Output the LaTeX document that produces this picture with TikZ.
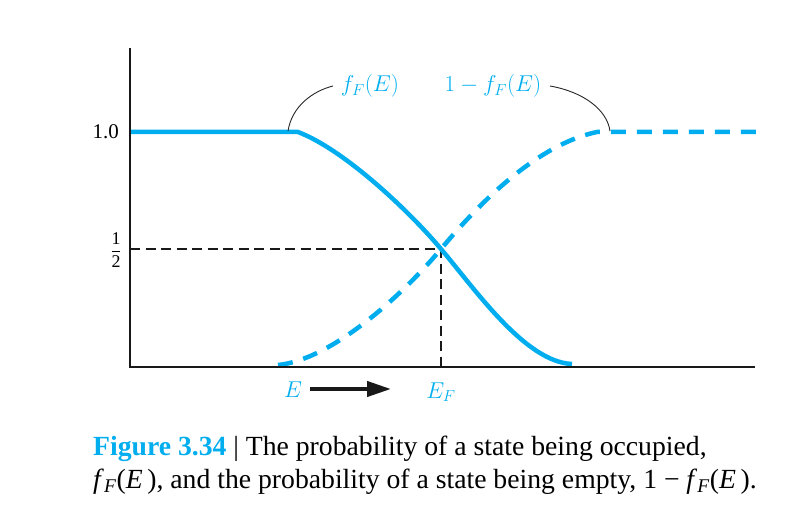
\documentclass[tikz,border=0pt]{standalone}
\usepackage{graphicx}
\usepackage{fontspec}
\setmainfont{Liberation Serif}
\usetikzlibrary{arrows.meta}
\definecolor{fblue}{RGB}{0,174,239}
\newcommand{\lblmath}[1]{\scalebox{1.11}{$#1$}}
\begin{document}
\begin{tikzpicture}[x=1bp,y=-1bp,
  axis/.style={draw=black!90,line width=2.6bp},
  occ/.style={draw=fblue,line width=4.5bp},
  emp/.style={draw=fblue,line width=4.5bp,dash pattern=on 15bp off 11bp},
  guide/.style={draw=black!90,line width=2.1bp,dash pattern=on 10bp off 5.5bp},
  leader/.style={draw=black!85,line width=0.9bp},
  bluelbl/.style={text=fblue,inner sep=0pt,font=\fontsize{20.74}{25}\selectfont},
  ticklbl/.style={inner sep=0pt,font=\fontsize{21}{24}\selectfont},
  captext/.style={anchor=base west,inner sep=0pt,font=\fontsize{27.8}{32}\selectfont}]
\useasboundingbox (0,0) rectangle (812,518);
% coordinates
\coordinate (O) at (130,367);
\coordinate (ytop) at (130,48);
\coordinate (xend) at (755,367);
\coordinate (oneL) at (130,132);
\coordinate (occEnd) at (298,132);
\coordinate (X) at (441,249);
\coordinate (occBot) at (572,364);
\coordinate (empStart) at (278,365);
\coordinate (empTop) at (597,132);
\coordinate (empEnd) at (757,132);
\coordinate (halfL) at (130,249);
\coordinate (EFax) at (441,367);
% guides
\draw[guide] (halfL) -- (X) -- (EFax);
% curves
\draw[occ] (oneL) -- (occEnd) .. controls (345,150) and (410,212) .. (X)
   .. controls (475,289) and (525,362) .. (occBot);
\draw[emp] (empStart) .. controls (330,360) and (400,298) .. (X)
   .. controls (476,207) and (535,145) .. (empTop) -- (empEnd);
% axes
\draw[axis] (ytop) -- (O) -- (xend);
% labels
\node[ticklbl,anchor=east] (one) at (119,132) {1.0};
\node[inner sep=0pt,font=\fontsize{18}{20}\selectfont] (half) at (116,250) {$\displaystyle\frac{\mbox{1}}{\mbox{2}}$};
\node[bluelbl] (fF) at (370,86) {\lblmath{f_F(E)}};
\node[bluelbl] (omf) at (493,86) {\lblmath{1-f_F(E)}};
\node[bluelbl] (E) at (293,390) {\lblmath{E}};
\node[bluelbl] (EF) at (441,392) {\lblmath{E_F}};
\coordinate (aS) at (310,389);
\coordinate (aE) at (391,389);
\draw[line width=4bp,black!90,-{Triangle[length=24bp,width=15bp]}] (aS) -- (aE);
% leaders
\coordinate (l1a) at (288,131);
\coordinate (l1b) at (333,86);
\coordinate (l2a) at (550,86);
\coordinate (l2b) at (610,131);
\draw[leader] (l1a) .. controls (292,106) and (313,91) .. (l1b);
\draw[leader] (l2a) .. controls (584,92) and (607,110) .. (l2b);
% caption
\node[captext] (cap1) at (93,455) {{\bfseries\color{fblue}Figure 3.34} | The probability of a state being occupied,};
\node[captext] (cap2) at (93,488) {\textit{f}\textsubscript{\textit{F}}(\textit{E}\,), and the probability of a state being empty, 1 − \textit{f}\textsubscript{\textit{F}}(\textit{E}\,).};
\end{tikzpicture}
\end{document}
